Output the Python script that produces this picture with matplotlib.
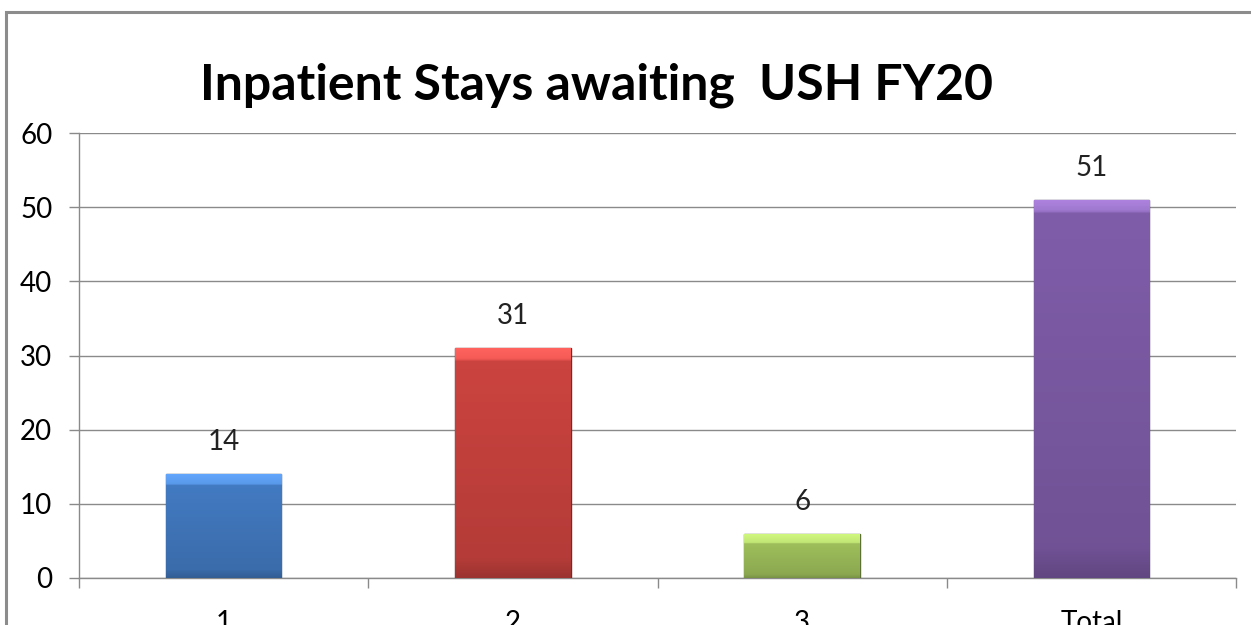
import matplotlib.pyplot as plt
import matplotlib.colors as mcolors
import numpy as np

categories = ["1", "2", "3", "Total"]
values = [14, 31, 6, 51]
bar_colors = ["#4178BE", "#C8423E", "#9BBB59", "#7D5BA6"]
yticks = [0, 10, 20, 30, 40, 50, 60]
title = "Inpatient Stays awaiting  USH FY20"

plt.rcParams['font.family'] = ['Lato', 'DejaVu Sans']

fig = plt.figure(figsize=(12.51, 6.25), dpi=100)
fig.patch.set_facecolor("white")

# outer chart frame (cropped at right and bottom)
frame = plt.Rectangle((6 / 1251, -0.2), 1.5, 1.2 - 12 / 625,
                      transform=fig.transFigure, fill=False,
                      edgecolor="#8c8c8c", linewidth=2.2)
fig.patches.append(frame)

ax = fig.add_axes([79 / 1251, 1 - 578 / 625, (1236 - 79) / 1251, (578 - 133) / 625])
ax.set_xlim(0, len(categories))
ax.set_ylim(0, 60)

x = np.arange(len(categories)) + 0.5
width = 0.4

for xi, v, c in zip(x, values, bar_colors):
    base = np.array(mcolors.to_rgb(c))
    light = np.clip(base * 1.15 + 0.06, 0, 1)
    dark = base * 0.78
    bar = ax.bar(xi, v, width=width, color=c, edgecolor=mcolors.to_hex(base * 0.6),
                 linewidth=1.0, zorder=3)[0]
    # vertical shading inside the bar, with a soft bevel at the top
    top_frac = 1 - min(1.3 / v, 0.3)
    grad = np.linspace(0, 1, 200).reshape(-1, 1)
    cmap = mcolors.LinearSegmentedColormap.from_list(
        "g", [(0, dark), (0.08, base * 0.9), (top_frac - 0.01, base * 1.02),
              (top_frac, light), (1, np.clip(light * 1.08, 0, 1))])
    im = ax.imshow(grad, extent=[xi - width / 2, xi + width / 2, 0, v], origin="lower",
                   aspect="auto", cmap=cmap, zorder=3.5, interpolation="bilinear")
    im.set_clip_path(bar)
    ax.annotate(str(v), (xi, v), xytext=(0, 23), textcoords="offset points",
                ha="center", va="center", fontsize=20, color="#222222")

ax.set_yticks(yticks)
ax.grid(axis="y", color="#8a8a8a", linewidth=1.0, zorder=0)
ax.set_axisbelow(True)

ax.set_xticks(np.arange(len(categories) + 1))
ax.set_xticklabels([])
ax.set_xticks(x, minor=True)
ax.set_xticklabels(categories, minor=True, fontsize=20)
ax.tick_params(axis="x", which="major", length=7.5, color="#8a8a8a", width=1.0)
ax.tick_params(axis="x", which="minor", length=0, pad=23)
ax.tick_params(axis="y", length=7.2, color="#8a8a8a", width=1.0, pad=12, labelsize=20)

for s in ["top", "right"]:
    ax.spines[s].set_visible(False)
for s in ["left", "bottom"]:
    ax.spines[s].set_color("#8a8a8a")
    ax.spines[s].set_linewidth(1.0)

fig.text(597 / 1251, 1 - 100 / 625, title, ha="center", va="baseline",
         fontsize=36, fontweight="bold", color="black")

fig.savefig("out.png", dpi=100)
